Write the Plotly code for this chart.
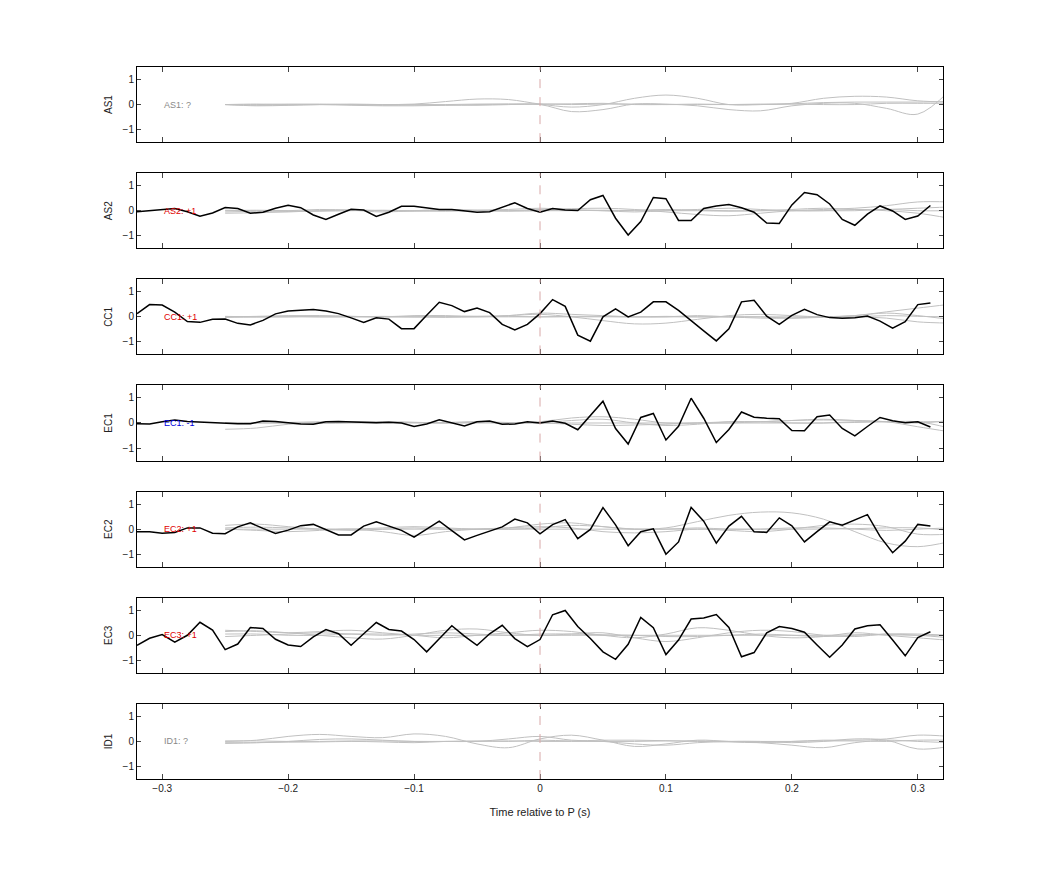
import plotly.graph_objects as go
from plotly.subplots import make_subplots

# sample times
t_black = [round(-0.32 + 0.01 * k, 2) for k in range(64)]      # -0.32 .. 0.31
t_gray = [round(-0.25 + 0.025 * k, 3) for k in range(24)]      # -0.25 .. 0.325

stations = ["AS1", "AS2", "CC1", "EC1", "EC2", "EC3", "ID1"]
labels = ["AS1: ?", "AS2: +1", "CC1: +1", "EC1: -1", "EC2: +1", "EC3: +1", "ID1: ?"]
label_colors = ["#888888", "#e00000", "#e00000", "#0000e0", "#e00000", "#e00000", "#888888"]

# black (aligned) traces, None where no trace
as2 = [-0.04, 0, 0.04, 0.09, -0.04, -0.22, -0.09, 0.13, 0.09, -0.10, -0.06, 0.10, 0.22, 0.12,
       -0.17, -0.35, -0.14, 0.06, 0.03, -0.23, -0.06, 0.18, 0.18, 0.12, 0.05, 0.05, 0, -0.06,
       -0.04, 0.13, 0.32, 0.09, -0.06, 0.09, 0.03, 0.01, 0.44, 0.61, -0.30, -0.97, -0.43, 0.53,
       0.48, -0.39, -0.39, 0.09, 0.19, 0.25, 0.12, -0.06, -0.49, -0.51, 0.23, 0.73, 0.64, 0.27,
       -0.35, -0.58, -0.14, 0.19, -0.01, -0.35, -0.21, 0.21]
cc1 = [0.13, 0.49, 0.47, 0.19, -0.19, -0.22, -0.10, -0.09, -0.26, -0.32, -0.14, 0.12, 0.23, 0.27,
       0.29, 0.23, 0.13, -0.04, -0.22, -0.04, -0.09, -0.47, -0.47, 0.06, 0.58, 0.45, 0.21, 0.35,
       0.17, -0.30, -0.52, -0.30, 0.13, 0.69, 0.42, -0.73, -0.97, 0, 0.32, 0, 0.19, 0.60, 0.60,
       0.26, -0.16, -0.56, -0.96, -0.48, 0.60, 0.66, 0.03, -0.30, 0.06, 0.30, 0.09, -0.03, -0.06,
       -0.04, 0.03, -0.17, -0.45, -0.19, 0.49, 0.55]
ec1 = [-0.03, -0.04, 0.05, 0.12, 0.06, 0.03, 0, -0.01, -0.03, -0.03, 0.08, 0.06, 0.01, -0.04,
       -0.05, 0.05, 0.06, 0.05, 0.03, 0.01, 0.03, 0, -0.14, -0.04, 0.13, 0.01, -0.12, 0.05, 0.08,
       -0.05, -0.04, 0.05, 0, 0.08, -0.01, -0.27, 0.32, 0.87, -0.22, -0.84, 0.22, 0.38, -0.68,
       -0.13, 0.99, 0.19, -0.78, -0.26, 0.44, 0.23, 0.19, 0.17, -0.30, -0.31, 0.25, 0.32, -0.22,
       -0.51, -0.14, 0.22, 0.09, 0.01, 0.05, -0.16]
ec2 = [-0.10, -0.10, -0.16, -0.13, 0.05, 0.05, -0.16, -0.18, 0.09, 0.25, 0.03, -0.17, -0.04, 0.14,
       0.19, -0.01, -0.23, -0.23, 0.12, 0.29, 0.12, -0.05, -0.32, 0, 0.32, -0.06, -0.43, -0.25,
       -0.08, 0.09, 0.40, 0.25, -0.19, 0.18, 0.38, -0.38, -0.01, 0.86, 0.17, -0.66, -0.10, 0.01,
       -1.0, -0.51, 0.87, 0.32, -0.56, 0.12, 0.51, -0.10, -0.13, 0.45, 0.13, -0.51, -0.10, 0.29,
       0.16, 0.38, 0.58, -0.29, -0.94, -0.48, 0.19, 0.13]
ec3 = [-0.40, -0.12, 0.03, -0.27, 0, 0.52, 0.21, -0.57, -0.35, 0.31, 0.27, -0.16, -0.39, -0.45,
       -0.06, 0.23, 0.06, -0.40, 0.06, 0.51, 0.23, 0.17, -0.17, -0.66, -0.14, 0.38, -0.03, -0.40,
       0.06, 0.40, -0.13, -0.45, -0.17, 0.82, 0.99, 0.35, -0.13, -0.66, -0.96, -0.36, 0.71, 0.30,
       -0.77, -0.19, 0.65, 0.69, 0.83, 0.31, -0.86, -0.69, 0.10, 0.35, 0.27, 0.12, -0.39, -0.88,
       -0.39, 0.25, 0.38, 0.42, -0.19, -0.82, -0.09, 0.14]
black = [None, as2, cc1, ec1, ec2, ec3, None]

# gray (individual) traces, four per station
gray = [
    [[0, 0, 0.02, 0.02, 0, 0, 0.02, 0.12, 0.22, 0.2, 0.02, -0.1, 0, 0.25, 0.38, 0.25, 0, 0, 0.05, 0.25, 0.33, 0.3, 0.15, 0.1],
     [0, -0.05, -0.03, 0, 0, -0.03, -0.02, -0.02, -0.03, 0, 0, -0.28, -0.2, 0.02, 0.02, -0.05, -0.2, -0.25, -0.05, 0.05, 0.05, -0.15, -0.38, 0.55],
     [0, 0.02, 0, 0, 0.02, 0, 0, 0, 0.02, 0.03, 0.02, 0.03, 0.05, 0, 0, 0.02, 0, 0, 0.03, 0.08, 0.1, 0.1, 0.1, 0.12],
     [0, -0.03, -0.02, 0, -0.03, -0.05, -0.05, -0.03, 0, 0, 0.02, 0, 0.02, 0.02, 0, 0, 0, 0.02, 0.02, 0, 0, 0.05, 0.05, 0.05]],
    [[-0.05, -0.02, 0, 0.05, 0.02, -0.05, 0, 0.05, 0.02, 0, 0.05, 0.08, 0.1, 0.05, -0.05, -0.15, -0.2, -0.1, 0, 0.05, 0.1, 0.2, 0.35, 0.35],
     [0.02, 0, -0.03, 0, 0.03, 0, -0.02, 0, 0.02, 0.05, 0.1, 0.05, 0, -0.05, 0, 0.05, 0.1, 0.05, 0, 0, 0.05, 0, -0.1, -0.3],
     [-0.1, -0.08, -0.05, 0, 0.02, 0, 0, -0.02, 0, 0, 0, 0.02, 0, 0.02, 0.05, 0.02, 0, 0, 0.05, 0.1, 0.05, 0.05, 0.1, 0.15],
     [0, 0.02, 0, -0.02, 0, 0.02, 0, 0.02, 0, -0.02, 0, 0, 0.02, 0, 0, 0, -0.02, 0, 0, 0, 0, 0.05, 0, 0]],
    [[0, 0.02, 0.05, 0.05, 0.02, 0, 0.05, 0.05, 0.02, 0.05, 0.1, 0, -0.15, -0.28, -0.25, -0.1, 0.05, 0.1, 0.05, 0, 0.05, 0.2, 0.35, 0.5],
     [0.02, 0, 0, 0.03, 0.02, 0, 0, 0.02, 0, 0.05, 0.15, 0.1, 0.05, 0, 0, 0.05, 0, -0.05, -0.05, 0, 0.05, 0.15, 0.05, -0.1],
     [-0.02, 0, 0.02, 0, 0, 0.02, 0, -0.02, 0, 0, 0, 0.02, 0.02, 0, 0.02, 0, 0, 0, -0.05, -0.02, 0, -0.05, -0.2, -0.25],
     [0, 0, 0, 0, 0, 0, 0, 0, 0.02, 0.02, 0, 0, 0, 0, 0, 0, 0, 0, 0, 0, 0, 0.05, 0.02, 0]],
    [[-0.25, -0.2, -0.05, 0, 0.02, 0.05, 0.02, 0, 0.05, 0, 0.05, 0.2, 0.25, 0.15, 0, 0, 0.05, 0.05, 0.1, 0.15, 0.1, 0.05, -0.15, -0.35],
     [0, 0, 0.02, 0.05, 0.05, 0.03, 0, 0.02, 0.05, 0.02, 0.02, 0.1, 0.15, 0, -0.1, -0.05, 0.05, 0.05, 0, 0, 0.05, 0.05, 0.05, -0.2],
     [0.02, 0.02, 0, 0.02, 0.05, 0.05, 0.03, 0, 0.03, 0, 0, -0.05, -0.1, -0.08, -0.05, 0, 0, 0.05, 0.1, 0.12, 0.1, 0.05, 0, 0.1],
     [0, 0, 0, -0.02, 0, 0, 0.02, 0, 0, 0, 0, 0, 0, 0, 0, 0, 0, 0, 0, 0, 0.02, 0.05, 0.05, 0.05]],
    [[0.15, 0.2, 0.1, 0, -0.05, 0, 0.05, 0, 0, 0.05, 0.2, 0.25, 0.1, 0, 0.05, 0.3, 0.55, 0.68, 0.65, 0.4, -0.1, -0.55, -0.7, -0.5],
     [0, -0.05, -0.1, -0.05, 0, -0.1, -0.25, -0.1, 0, 0.05, 0.1, 0.05, -0.1, -0.15, -0.1, 0, -0.05, -0.1, 0, 0.15, 0.2, 0.1, -0.2, -0.2],
     [0.05, 0.08, 0.05, 0, 0, 0.05, 0.1, 0.05, 0, 0, 0.05, 0.15, 0.1, 0, 0, 0.05, 0, 0, 0.05, 0.05, 0, -0.05, 0, 0.05],
     [0, 0, 0, 0, 0, 0, 0, 0, 0, 0, 0, 0, 0, 0, 0, 0, 0, 0, 0, 0, 0.02, 0.05, 0.05, -0.05]],
    [[0.15, 0.18, 0.1, 0, -0.1, -0.15, 0, 0.2, 0.25, 0.1, 0, 0.05, 0.1, -0.1, -0.25, -0.1, 0.1, 0.2, 0.15, 0, -0.05, 0.05, 0.05, 0],
     [0.2, 0.15, 0.1, 0.15, 0.2, 0.1, 0, -0.1, 0, 0.1, 0.2, 0.15, 0, -0.1, 0.05, 0.3, 0.2, 0, -0.1, -0.05, 0.1, 0, -0.1, -0.2],
     [-0.05, 0, 0.05, 0.1, 0.05, 0, 0.05, 0.1, 0.05, 0, 0.05, 0.05, 0.02, 0, -0.05, -0.05, 0, 0.05, 0, -0.05, 0, 0.05, 0, -0.1],
     [0.05, 0.05, 0, 0, 0.05, 0.05, 0, 0, 0, 0, 0, 0, 0, 0, 0, 0, 0, 0, 0, 0, 0.02, 0.02, 0, 0]],
    [[0, 0.05, 0.2, 0.28, 0.2, 0.15, 0.3, 0.2, -0.1, -0.25, 0.1, 0.25, 0.05, -0.2, -0.1, 0.05, 0, -0.05, -0.15, -0.25, -0.05, 0.05, 0, -0.05],
     [-0.08, -0.05, 0, 0.08, 0.1, 0.05, 0, 0, 0, 0.1, 0.2, 0.05, 0, -0.1, -0.15, -0.05, 0, 0, -0.05, 0, 0.1, 0.05, -0.3, -0.2],
     [-0.05, -0.05, -0.03, -0.02, 0, -0.02, -0.05, 0, 0.02, 0, 0.05, 0.02, 0.05, 0.05, 0.03, 0, -0.02, -0.05, 0, 0.05, 0.05, 0.1, 0.25, 0.2],
     [0.02, 0.02, 0, 0, 0.02, 0.02, 0, 0, 0, 0.02, 0, 0, 0, 0, 0.02, 0.02, 0, 0, 0, 0.02, 0.02, 0, 0.05, 0.05]],
]

fig = make_subplots(rows=7, cols=1, shared_xaxes=True, vertical_spacing=31 / 712)

for i, st in enumerate(stations):
    r = i + 1
    for g in gray[i]:
        fig.add_trace(go.Scatter(x=t_gray, y=g, mode="lines", line=dict(color="#c0c0c0", width=1, shape="spline"),
                                 showlegend=False, hoverinfo="skip"), row=r, col=1)
    if black[i] is not None:
        fig.add_trace(go.Scatter(x=t_black, y=black[i], mode="lines", line=dict(color="black", width=1.5),
                                 showlegend=False), row=r, col=1)
    fig.add_annotation(x=-0.3, y=0, text=labels[i], showarrow=False, xanchor="left",
                       font=dict(size=9, color=label_colors[i]), row=r, col=1)
    fig.add_shape(type="line", x0=0, x1=0, y0=-1.5, y1=1.5, line=dict(color="#d8a8a8", width=1, dash="dash"),
                  row=r, col=1)
    fig.update_yaxes(range=[-1.5, 1.5], tickvals=[-1, 0, 1], ticks="inside", ticklen=4, showgrid=False,
                     zeroline=False, showline=True, linecolor="black", mirror="ticks",
                     title=dict(text=st, font=dict(size=10), standoff=8), row=r, col=1)
    fig.update_xaxes(range=[-0.32, 0.32], tickvals=[-0.3, -0.2, -0.1, 0, 0.1, 0.2, 0.3], ticks="inside",
                     ticklen=5, showgrid=False, zeroline=False, showline=True, linecolor="black",
                     mirror="ticks", row=r, col=1)

fig.update_xaxes(title=dict(text="Time relative to P (s)", font=dict(size=11)), row=7, col=1)
fig.update_layout(width=1042, height=875, plot_bgcolor="white", paper_bgcolor="white",
                  margin=dict(l=129, r=107, t=59, b=104),
                  font=dict(family="Liberation Sans, Arial", size=10, color="#222"))

fig.write_html("out.html")
